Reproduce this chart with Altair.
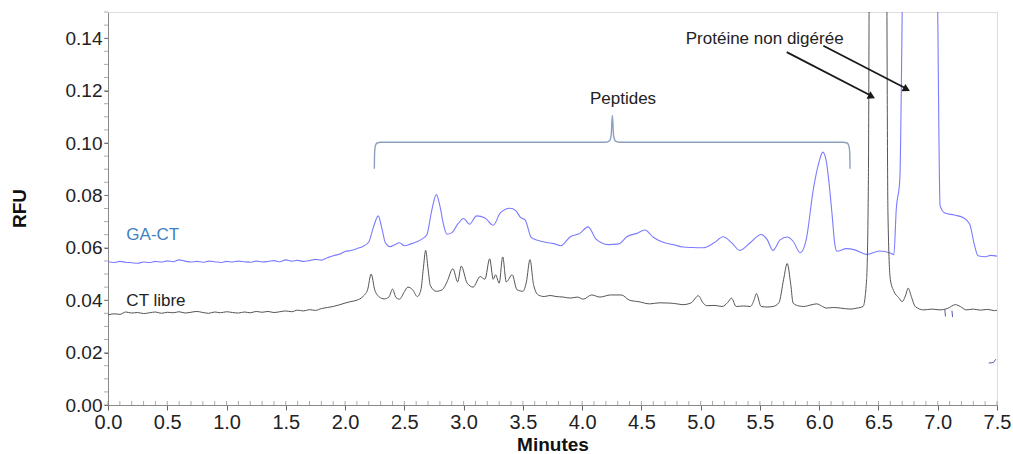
import altair as alt
import pandas as pd

# ---------------- data ----------------
GA_CT = [
    (0.00, 0.0547), (0.05, 0.0544), (0.10, 0.0548), (0.15, 0.0545), (0.20, 0.0543),
    (0.25, 0.0541), (0.30, 0.0546), (0.35, 0.0544), (0.40, 0.0548), (0.45, 0.0546),
    (0.50, 0.0550), (0.55, 0.0547), (0.60, 0.0554), (0.65, 0.0549), (0.70, 0.0546),
    (0.75, 0.0548), (0.80, 0.0545), (0.85, 0.0549), (0.90, 0.0547), (0.95, 0.0544),
    (1.00, 0.0548), (1.05, 0.0546), (1.10, 0.0549), (1.15, 0.0547), (1.20, 0.0545),
    (1.25, 0.0549), (1.30, 0.0546), (1.35, 0.0548), (1.40, 0.0551), (1.45, 0.0547),
    (1.50, 0.0554), (1.55, 0.0549), (1.60, 0.0552), (1.65, 0.0548), (1.70, 0.0551),
    (1.75, 0.0556), (1.80, 0.0553), (1.85, 0.0562), (1.90, 0.0570), (1.95, 0.0575),
    (2.00, 0.0586), (2.05, 0.0590), (2.10, 0.0597), (2.15, 0.0605), (2.20, 0.0622),
    (2.24, 0.0680), (2.28, 0.0722), (2.31, 0.0675), (2.34, 0.0619), (2.38, 0.0604),
    (2.42, 0.0612), (2.46, 0.0619), (2.50, 0.0608), (2.55, 0.0614), (2.60, 0.0622),
    (2.65, 0.0634), (2.69, 0.0650), (2.73, 0.0740), (2.77, 0.0803), (2.80, 0.0760),
    (2.83, 0.0690), (2.86, 0.0652), (2.90, 0.0657), (2.95, 0.0690), (3.00, 0.0712),
    (3.05, 0.0690), (3.11, 0.0722), (3.18, 0.0714), (3.25, 0.0686), (3.31, 0.0733),
    (3.39, 0.0751), (3.44, 0.0742), (3.48, 0.0716), (3.52, 0.0706), (3.57, 0.0640),
    (3.63, 0.0628), (3.70, 0.0620), (3.76, 0.0616), (3.82, 0.0608), (3.90, 0.0642),
    (3.98, 0.0655), (4.05, 0.0680), (4.12, 0.0632), (4.22, 0.0612), (4.31, 0.0615),
    (4.38, 0.0643), (4.46, 0.0655), (4.53, 0.0668), (4.60, 0.0640), (4.69, 0.0620),
    (4.77, 0.0612), (4.85, 0.0603), (4.93, 0.0601), (5.02, 0.0600), (5.11, 0.0618),
    (5.19, 0.0642), (5.26, 0.0620), (5.33, 0.0590), (5.42, 0.0620), (5.51, 0.0651),
    (5.56, 0.0632), (5.61, 0.0590), (5.67, 0.0630), (5.73, 0.0641), (5.78, 0.0625),
    (5.84, 0.0581), (5.89, 0.0630), (5.95, 0.0822), (6.00, 0.0930), (6.03, 0.0965),
    (6.06, 0.0930), (6.08, 0.0860), (6.11, 0.0720), (6.13, 0.0620), (6.15, 0.0587),
    (6.23, 0.0597), (6.30, 0.0592), (6.40, 0.0575), (6.51, 0.0588), (6.60, 0.0580),
    (6.63, 0.0574), (6.65, 0.0746), (6.68, 0.0860), (6.70, 0.1500), (6.72, 0.2500),
    (6.98, 0.2500), (7.00, 0.1500), (7.02, 0.0760), (7.06, 0.0733), (7.14, 0.0725),
    (7.22, 0.0714), (7.27, 0.0690), (7.31, 0.0610), (7.34, 0.0570), (7.40, 0.0566),
    (7.45, 0.0571), (7.50, 0.0568),
]

CT_LIBRE = [
    (0.00, 0.0344), (0.05, 0.0348), (0.10, 0.0346), (0.15, 0.0355), (0.20, 0.0351),
    (0.25, 0.0353), (0.30, 0.0349), (0.35, 0.0352), (0.40, 0.0355), (0.45, 0.0350),
    (0.50, 0.0354), (0.55, 0.0352), (0.60, 0.0356), (0.65, 0.0351), (0.70, 0.0354),
    (0.75, 0.0357), (0.80, 0.0353), (0.85, 0.0350), (0.90, 0.0355), (0.95, 0.0352),
    (1.00, 0.0356), (1.05, 0.0353), (1.10, 0.0351), (1.15, 0.0355), (1.20, 0.0352),
    (1.25, 0.0357), (1.30, 0.0354), (1.35, 0.0357), (1.40, 0.0353), (1.45, 0.0356),
    (1.50, 0.0359), (1.55, 0.0356), (1.60, 0.0362), (1.65, 0.0359), (1.70, 0.0364),
    (1.75, 0.0361), (1.80, 0.0368), (1.85, 0.0372), (1.90, 0.0376), (1.95, 0.0382),
    (2.00, 0.0389), (2.05, 0.0395), (2.10, 0.0400), (2.15, 0.0414), (2.19, 0.0440),
    (2.22, 0.0500), (2.25, 0.0440), (2.29, 0.0412), (2.33, 0.0405), (2.37, 0.0412),
    (2.40, 0.0442), (2.43, 0.0410), (2.46, 0.0404), (2.50, 0.0432), (2.53, 0.0450),
    (2.57, 0.0440), (2.61, 0.0414), (2.64, 0.0440), (2.66, 0.0520), (2.68, 0.0590),
    (2.70, 0.0520), (2.72, 0.0455), (2.77, 0.0434), (2.82, 0.0440), (2.86, 0.0470),
    (2.91, 0.0520), (2.95, 0.0470), (2.98, 0.0530), (3.03, 0.0465), (3.08, 0.0450),
    (3.14, 0.0490), (3.18, 0.0480), (3.22, 0.0558), (3.25, 0.0480), (3.27, 0.0497),
    (3.30, 0.0465), (3.33, 0.0565), (3.36, 0.0470), (3.41, 0.0497), (3.45, 0.0440),
    (3.50, 0.0434), (3.53, 0.0470), (3.56, 0.0555), (3.59, 0.0460), (3.63, 0.0420),
    (3.68, 0.0414), (3.73, 0.0418), (3.78, 0.0414), (3.84, 0.0412), (3.90, 0.0408),
    (3.96, 0.0412), (4.01, 0.0404), (4.08, 0.0420), (4.15, 0.0412), (4.24, 0.0420),
    (4.33, 0.0420), (4.40, 0.0400), (4.48, 0.0394), (4.57, 0.0386), (4.65, 0.0390),
    (4.74, 0.0389), (4.80, 0.0386), (4.85, 0.0383), (4.92, 0.0390), (4.98, 0.0417),
    (5.02, 0.0390), (5.05, 0.0379), (5.12, 0.0380), (5.18, 0.0376), (5.23, 0.0392),
    (5.26, 0.0408), (5.30, 0.0376), (5.36, 0.0378), (5.42, 0.0376), (5.45, 0.0400),
    (5.47, 0.0425), (5.51, 0.0376), (5.56, 0.0374), (5.61, 0.0376), (5.66, 0.0390),
    (5.70, 0.0480), (5.73, 0.0540), (5.76, 0.0460), (5.78, 0.0389), (5.83, 0.0378),
    (5.87, 0.0376), (5.93, 0.0382), (5.98, 0.0386), (6.02, 0.0378), (6.06, 0.0370),
    (6.12, 0.0372), (6.18, 0.0370), (6.26, 0.0366), (6.32, 0.0370), (6.37, 0.0376),
    (6.40, 0.0480), (6.415, 0.0860), (6.43, 0.2500), (6.56, 0.2500), (6.58, 0.0733),
    (6.60, 0.0480), (6.63, 0.0434), (6.67, 0.0410), (6.70, 0.0395), (6.73, 0.0420),
    (6.75, 0.0446), (6.78, 0.0410), (6.81, 0.0376), (6.88, 0.0363), (6.95, 0.0366),
    (7.02, 0.0363), (7.08, 0.0368), (7.15, 0.0383), (7.19, 0.0376), (7.24, 0.0363),
    (7.30, 0.0366), (7.36, 0.0362), (7.42, 0.0365), (7.48, 0.0360), (7.50, 0.0362),
]

# small stray trace fragments (segment, minutes, RFU)
STRAY = [
    ("a", 7.060, 0.0363), ("a", 7.065, 0.0338),
    ("b", 7.120, 0.0360), ("b", 7.125, 0.0336),
    ("c", 7.430, 0.0160), ("c", 7.470, 0.0162), ("c", 7.490, 0.0175),
]

# curly bracket over the peptide region (minutes, RFU)
BRACE = [
    (2.247, 0.0902), (2.249, 0.0960), (2.256, 0.0990), (2.270, 0.1000), (2.300, 0.1003),
    (4.200, 0.1003), (4.230, 0.1008), (4.245, 0.1030), (4.255, 0.1106),
    (4.265, 0.1030), (4.280, 0.1008), (4.310, 0.1003),
    (6.200, 0.1003), (6.235, 0.1000), (6.250, 0.0990), (6.258, 0.0960), (6.260, 0.0902),
]

# arrows (id, minutes, RFU) tail then head
ARROWS = [
    ("a1", 5.726, 0.1347), ("a1", 6.430, 0.1182),
    ("a2", 6.035, 0.1371), ("a2", 6.725, 0.1210),
]
ARROW_HEADS = [(6.443, 0.1177), (6.738, 0.1205)]

SERIES_LABELS = [("GA-CT", 0.155, 0.0631, "#3f7fbf"), ("CT libre", 0.155, 0.0379, "#222222")]
ANNOTATIONS = [("Peptides", 4.345, 0.1167), ("Protéine non digérée", 5.54, 0.1396)]

X_TICKS = [0.0, 0.5, 1.0, 1.5, 2.0, 2.5, 3.0, 3.5, 4.0, 4.5, 5.0, 5.5, 6.0, 6.5, 7.0, 7.5]
Y_TICKS = [0.00, 0.02, 0.04, 0.06, 0.08, 0.10, 0.12, 0.14]
X_MINOR = [round(i * 0.1, 1) for i in range(76)]
Y_MINOR = [round(i * 0.005, 3) for i in range(31)]

# ---------------- frames ----------------
ga = pd.DataFrame(GA_CT, columns=["t", "v"])
ct = pd.DataFrame(CT_LIBRE, columns=["t", "v"])
stray = pd.DataFrame(STRAY, columns=["seg", "t", "v"])
brace = pd.DataFrame(BRACE, columns=["t", "v"]).reset_index()
arrows = pd.DataFrame(ARROWS, columns=["id", "t", "v"])
heads = pd.DataFrame(ARROW_HEADS, columns=["t", "v"])
labels = pd.DataFrame(SERIES_LABELS, columns=["text", "t", "v", "color"])
annots = pd.DataFrame(ANNOTATIONS, columns=["text", "t", "v"])
xminor = pd.DataFrame({"t": X_MINOR, "v": [0.0] * len(X_MINOR)})
yminor = pd.DataFrame({"t": [0.0] * len(Y_MINOR), "v": Y_MINOR})

FONT = "Liberation Sans"
XS = alt.Scale(domain=[0, 7.5], nice=False, zero=False)
YS = alt.Scale(domain=[0, 0.15], nice=False, zero=False)

X_AXIS = alt.Axis(
    values=X_TICKS, format=".1f", orient="bottom", grid=False,
    labelFont=FONT, labelFontSize=20, labelColor="#222", labelPadding=2, labelFlush=False,
    tickSize=5, tickColor="#666", domainColor="#8a8a8a",
    title="Minutes", titleFont=FONT, titleFontSize=19, titleFontWeight="bold",
    titleColor="#111", titleY=45, titleBaseline="alphabetic",
)
Y_AXIS = alt.Axis(
    values=Y_TICKS, format=".2f", orient="left", grid=False,
    labelFont=FONT, labelFontSize=19, labelColor="#222", labelPadding=2, labelFlush=False,
    tickSize=4, tickColor="#666", domainColor="#8a8a8a",
    title="RFU", titleFont=FONT, titleFontSize=19, titleFontWeight="bold",
    titleColor="#111", titleX=-83, titleY=196, titleAngle=270, titleBaseline="alphabetic",
)


def X():
    return alt.X("t:Q", scale=XS, axis=X_AXIS)


def Y():
    return alt.Y("v:Q", scale=YS, axis=Y_AXIS)


x_minor_ticks = alt.Chart(xminor).mark_tick(orient="vertical", size=4, thickness=1,
                                            color="#888", yOffset=-2, clip=False).encode(
    x=X(), y=Y())
y_minor_ticks = alt.Chart(yminor).mark_tick(orient="horizontal", size=4, thickness=1,
                                            color="#888", xOffset=-2, clip=False).encode(
    x=X(), y=Y())

ga_line = alt.Chart(ga).mark_line(color="#7b7bff", strokeWidth=1.1, clip=True,
                                  interpolate="monotone").encode(
    x=X(), y=Y(), order="t:Q")
ct_line = alt.Chart(ct).mark_line(color="#555555", strokeWidth=1.0, clip=True,
                                  interpolate="monotone").encode(
    x=X(), y=Y(), order="t:Q")
stray_line = alt.Chart(stray).mark_line(color="#5a5aa8", strokeWidth=1.0, clip=True).encode(
    x=X(), y=Y(), detail="seg:N")

brace_line = alt.Chart(brace).mark_line(color="#8aa0bd", strokeWidth=1.4, interpolate="monotone").encode(
    x=X(), y=Y(), order="index:Q")
arrow_lines = alt.Chart(arrows).mark_line(color="#1a1a1a", strokeWidth=1.8).encode(
    x=X(), y=Y(), detail="id:N")
arrow_heads = alt.Chart(heads).mark_point(shape="triangle-right", filled=True, color="#1a1a1a",
                                          size=70, angle=27, opacity=1).encode(x=X(), y=Y())

label_text = alt.Chart(labels).mark_text(font=FONT, fontSize=17, align="left",
                                         baseline="alphabetic").encode(
    x=X(), y=Y(), text="text:N", color=alt.Color("color:N", scale=None))
annot_text = alt.Chart(annots).mark_text(font=FONT, fontSize=17, align="center",
                                         baseline="middle", color="#222").encode(
    x=X(), y=Y(), text="text:N")

chart = alt.layer(
    ga_line, ct_line, stray_line, x_minor_ticks, y_minor_ticks, brace_line, arrow_lines,
    arrow_heads, label_text, annot_text,
).properties(
    width=889, height=393,
    autosize=alt.AutoSizeParams(type="none"),
    padding={"left": 108, "top": 12, "right": 16, "bottom": 49},
).configure_view(stroke="#9a9a9a", strokeWidth=1.2).configure(background="white")

chart.save("out.html", embed_options={"renderer": "svg", "actions": False})
